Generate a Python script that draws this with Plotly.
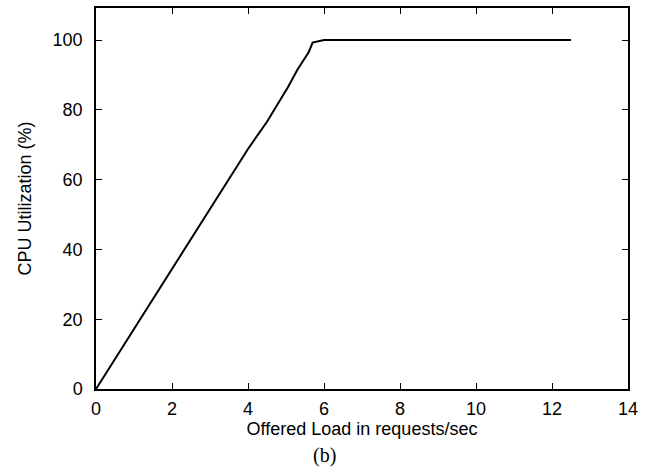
import plotly.graph_objects as go

load = [0, 1, 2, 3, 4, 4.5, 4.85, 5.05, 5.3, 5.6, 5.7, 6.0, 7, 8, 9, 10, 11, 12, 12.5]
cpu = [0, 17.2, 34.4, 51.6, 68.8, 76.6, 82.8, 86.5, 91.5, 96.6, 99.3, 100, 100, 100, 100, 100, 100, 100, 100]

x_ticks = [0, 2, 4, 6, 8, 10, 12, 14]
y_ticks = [0, 20, 40, 60, 80, 100]

FONT = "Liberation Sans, Arial, Helvetica"

fig = go.Figure()
fig.add_trace(go.Scatter(x=load, y=cpu, mode="lines",
                         line=dict(color="black", width=2), showlegend=False))

axis_common = dict(showgrid=False, zeroline=False, showline=True, linecolor="black",
                   linewidth=1.5, mirror="allticks", ticks="inside", ticklen=6,
                   tickwidth=1, tickcolor="black",
                   tickfont=dict(family=FONT, size=18, color="black"))

fig.update_xaxes(range=[0, 14], tickvals=x_ticks, ticklabelstandoff=3, **axis_common,
                 title=dict(text="Offered Load in requests/sec", standoff=4,
                            font=dict(family=FONT, size=18, color="black")))
fig.update_yaxes(range=[0, 109.2], tickvals=y_ticks, ticklabelstandoff=8, **axis_common,
                 title=dict(text="CPU Utilization (%)", standoff=16,
                            font=dict(family=FONT, size=18, color="black")))

fig.add_annotation(text="(b)", xref="paper", yref="paper", x=0.43, y=-0.175,
                   showarrow=False, yanchor="middle",
                   font=dict(family="Liberation Serif, Times New Roman", size=20, color="black"))

fig.update_layout(width=652, height=468, margin=dict(l=96, r=24, t=6, b=79),
                  plot_bgcolor="white", paper_bgcolor="white")

fig.write_html("out.html")
